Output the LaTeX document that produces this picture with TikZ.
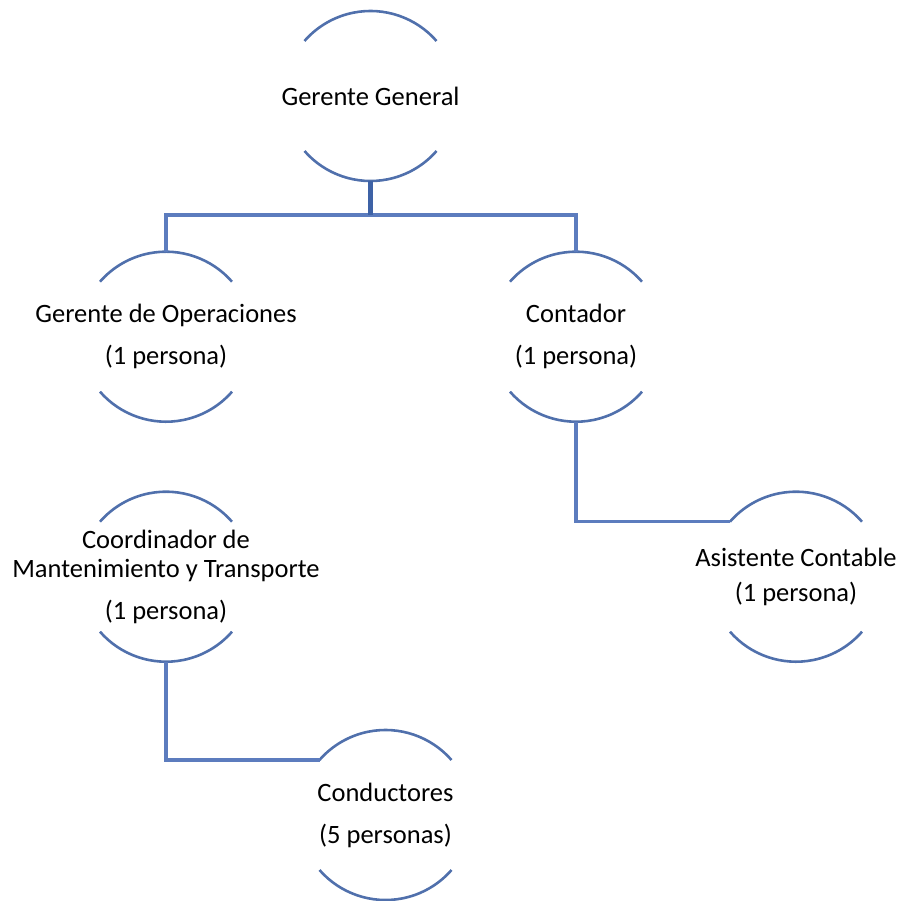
\documentclass[tikz,border=0pt]{standalone}
\usepackage{fontspec}
\setmainfont{Carlito}
\usetikzlibrary{calc}
\definecolor{arcblue}{RGB}{80,112,172}
\definecolor{connblue}{RGB}{92,124,190}
\definecolor{mainblue}{RGB}{62,98,166}
\begin{document}
\begin{tikzpicture}[x=1pt,y=1pt,
  unit/.style={inner sep=0pt, minimum height=170pt, minimum width=132pt, align=center,
    font=\fontsize{26.5}{29.5}\selectfont, text=black},
  arcline/.style={draw=arcblue, line width=2.6pt},
  conn/.style={draw=connblue, line width=3.2pt},
  mainconn/.style={draw=mainblue, line width=4.2pt}]
\useasboundingbox (0,0) rectangle (899,-901);
\node[unit] (gg) at (370.5,-96) {Gerente General};
\node[unit] (go) at (166,-336.7) {Gerente de Operaciones\\[12.5pt](1 persona)};
\node[unit] (ct) at (576,-336.7) {Contador\\[12.5pt](1 persona)};
\node[unit] (as) at (796,-576.7) {Asistente Contable\\[5.5pt](1 persona)};
\node[unit] (co) at (166,-576.7) {Coordinador de\\Mantenimiento y Transporte\\[12.5pt](1 persona)};
\node[unit] (cd) at (385.5,-815) {Conductores\\[12.5pt](5 personas)};
\foreach \n in {gg,go,ct,as,co,cd}{
  \draw[arcline] ([shift={(66,55)}]\n.center) arc[start angle=41.1,end angle=138.9,radius=87.6pt];
  \draw[arcline] ([shift={(-66,-55)}]\n.center) arc[start angle=221.1,end angle=318.9,radius=87.6pt];
}
\coordinate (bus) at (0,-215);
\coordinate (asL) at ([shift={(-66,55)}]as.center);
\coordinate (cdL) at ([shift={(-66,55)}]cd.center);
\draw[conn] (go.north) -- (go.north |- bus) -- (ct.north |- bus) -- (ct.north);
\draw[mainconn] (gg.south) -- (gg.south |- bus);
\draw[conn] (ct.south) |- (asL);
\draw[conn] (co.south) |- (cdL);
\end{tikzpicture}
\end{document}
